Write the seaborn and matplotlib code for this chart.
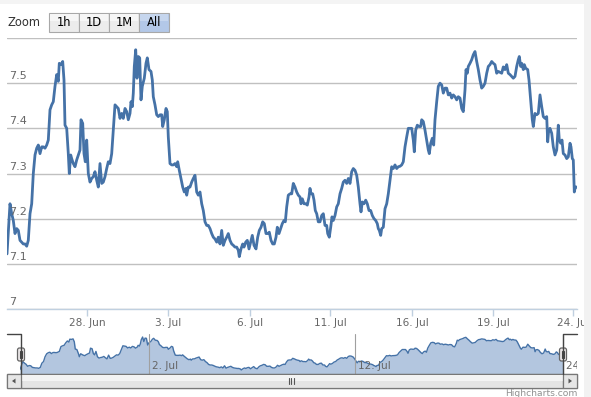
import numpy as np
import pandas as pd
import seaborn as sns
import matplotlib.pyplot as plt
from matplotlib.patches import Rectangle, FancyBboxPatch, Polygon
import matplotlib.transforms as mtransforms

# trading hours since start of range (ordinal axis) and exchange rate
hours = [
    0, 3, 4.7, 6.3, 8, 9.7, 11.3, 13, 14.7, 16.3,
    18, 19.7, 21.3, 23, 24.7, 26.3, 28, 29.7, 31.3, 33,
    34.7, 36.3, 38, 39.7, 41.3, 43, 44.7, 46.3, 48, 49.7,
    51.3, 52.3, 54, 55.7, 57, 58, 59.7, 61.3, 62.3, 63.7,
    64.7, 66.3, 68, 69.7, 71.3, 73, 74, 75.7, 77, 78.3,
    79.7, 81.3, 83, 84.7, 86.3, 88, 89.7, 91.3, 93, 94.7,
    96.3, 98, 99.7, 101.3, 103, 104.7, 106.3,
    108, 111.3, 113, 114.7, 116.3, 118, 119.7, 121.3, 123, 124,
    125.3, 126.3, 127.3, 128.7, 130, 131.3, 132.7, 134, 135.3, 137.3,
    139, 140.3, 142, 144, 145.3, 146.3, 148, 149.7, 151.3, 153,
    154.7, 155.7, 157.3, 159, 160.3, 161.3, 163, 164.7, 166.3, 168,
    169.7, 170.7, 172.3, 174, 175.7, 177.3, 179, 179.7, 181.3, 183,
    184.7, 186.3, 188, 189.7, 191.3, 193, 194.7, 196.3, 198, 199.7,
    201.3, 203, 204.7, 206.3, 208, 209.7, 211.3, 213, 214.7, 216.3,
    218, 219.7, 221.3,
    223, 224.7, 226.3, 228, 229.7, 231.3, 232.3, 234, 235.7, 237,
    238.7, 240.3, 242, 243.7, 245.3, 247, 249, 250.7, 252.3, 254,
    255.7, 257.3, 259, 260.7, 262.3, 264, 265.7, 267.3, 269, 270.3,
    272, 273.7, 275.3, 277, 278.3, 279.7, 281.3, 283, 284.7, 286.3,
    288, 289.7, 291.3, 293, 294, 295.3, 297, 298.7, 300.3, 302,
    303, 304, 305.7, 307, 308.3, 309.7, 311.3, 313, 314.7, 316.3,
    318, 319.7, 320.7, 322.3, 323.7, 325, 326.3, 328, 329.7, 331.3,
    333, 334.7, 336.3,
    338, 339.7, 341.3, 343, 344.7, 346.3, 348, 349.7, 351.3, 353,
    354, 355.3, 357, 358.7, 360.3, 362, 363.7, 365.3, 367, 368.7,
    370.3, 371.3, 372.3, 373.7, 374.7, 376.3, 378, 379.7, 381.3, 383,
    384.7, 386.3, 388, 389.7, 391.3, 393, 394.7, 396.3, 398, 399.7,
    401.3, 403, 404.7, 406.3, 407.3, 408.7, 410.3, 412, 413.7, 414.7,
    416.3, 418, 419.7, 421.3, 422.3, 423.7, 425.3, 426.7, 428, 429.7,
    431.3, 433, 434.7, 436.3, 438, 439.7, 441.3, 443, 444.7, 446.3,
    448, 449.7, 451.3,
    453, 454.7, 456.3, 458, 459, 460.3, 461.3, 463, 464.7, 466.3,
    468, 469.7, 471.3, 473, 474.7, 476.3, 478, 479.7, 481.3, 483,
    484.7, 486.3, 488, 489.7, 491.3, 493, 494.7, 496.3, 498, 499.7,
    501.3, 503, 504.7, 506.3, 508, 509.7, 511.3, 512.3, 513.7, 514.7,
    516.3, 517.3, 518.7, 520.7, 522, 523.7, 525.3, 526.3, 528, 529.7,
    531.3, 533, 534.7, 536.3, 538, 539.7, 540.7, 541.7, 543, 544.7,
    546.3, 548, 549.7, 551.3, 552.3, 553.7, 555, 556.3, 558, 559.7,
    561.3, 563, 564, 565.3, 566.3, 567.3, 568.3, 569.7,
]
rate = [
    7.122, 7.233, 7.211, 7.196, 7.167, 7.178, 7.174, 7.152, 7.148, 7.144,
    7.144, 7.139, 7.152, 7.211, 7.233, 7.300, 7.341, 7.356, 7.363, 7.344,
    7.359, 7.359, 7.356, 7.363, 7.374, 7.441, 7.452, 7.459, 7.493, 7.519,
    7.504, 7.544, 7.541, 7.548, 7.507, 7.407, 7.400, 7.344, 7.300, 7.341,
    7.333, 7.322, 7.315, 7.330, 7.341, 7.352, 7.419, 7.411, 7.344, 7.326,
    7.374, 7.300, 7.281, 7.289, 7.293, 7.304, 7.285, 7.270, 7.322, 7.278,
    7.281, 7.293, 7.311, 7.326, 7.322, 7.344, 7.396,
    7.452, 7.444, 7.422, 7.433, 7.422, 7.444, 7.437, 7.419, 7.433, 7.459,
    7.448, 7.478, 7.537, 7.574, 7.511, 7.559, 7.556, 7.463, 7.493, 7.511,
    7.544, 7.556, 7.530, 7.526, 7.507, 7.470, 7.452, 7.430, 7.426, 7.430,
    7.430, 7.404, 7.419, 7.444, 7.437, 7.381, 7.322, 7.319, 7.319, 7.322,
    7.315, 7.326, 7.307, 7.289, 7.270, 7.259, 7.267, 7.252, 7.270, 7.270,
    7.281, 7.289, 7.296, 7.259, 7.252, 7.259, 7.233, 7.218, 7.193, 7.185,
    7.185, 7.178, 7.167, 7.159, 7.155, 7.148, 7.159, 7.144, 7.174, 7.141,
    7.152, 7.159, 7.167,
    7.152, 7.144, 7.141, 7.137, 7.137, 7.130, 7.116, 7.133, 7.144, 7.137,
    7.148, 7.152, 7.133, 7.148, 7.163, 7.141, 7.133, 7.159, 7.174, 7.181,
    7.193, 7.189, 7.167, 7.167, 7.170, 7.152, 7.144, 7.144, 7.159, 7.181,
    7.167, 7.178, 7.189, 7.196, 7.193, 7.226, 7.252, 7.255, 7.255, 7.278,
    7.270, 7.259, 7.252, 7.248, 7.233, 7.244, 7.233, 7.233, 7.230, 7.248,
    7.267, 7.255, 7.255, 7.241, 7.218, 7.211, 7.193, 7.193, 7.207, 7.211,
    7.185, 7.185, 7.167, 7.159, 7.181, 7.204, 7.196, 7.207, 7.226, 7.233,
    7.255, 7.267, 7.281,
    7.285, 7.278, 7.289, 7.278, 7.304, 7.311, 7.307, 7.296, 7.270, 7.233,
    7.215, 7.237, 7.233, 7.241, 7.233, 7.218, 7.218, 7.207, 7.200, 7.196,
    7.189, 7.178, 7.174, 7.163, 7.178, 7.181, 7.222, 7.233, 7.255, 7.285,
    7.315, 7.311, 7.319, 7.311, 7.315, 7.316, 7.319, 7.326, 7.359, 7.381,
    7.400, 7.400, 7.400, 7.374, 7.348, 7.396, 7.407, 7.404, 7.404, 7.419,
    7.415, 7.396, 7.374, 7.352, 7.344, 7.367, 7.378, 7.363, 7.419, 7.459,
    7.493, 7.500, 7.496, 7.478, 7.489, 7.489, 7.474, 7.478, 7.467, 7.474,
    7.470, 7.463, 7.470,
    7.467, 7.444, 7.437, 7.485, 7.530, 7.522, 7.537, 7.544, 7.552, 7.563,
    7.570, 7.548, 7.530, 7.507, 7.489, 7.493, 7.500, 7.522, 7.537, 7.541,
    7.548, 7.544, 7.541, 7.522, 7.526, 7.524, 7.522, 7.536, 7.530, 7.541,
    7.522, 7.519, 7.515, 7.511, 7.515, 7.537, 7.552, 7.559, 7.537, 7.544,
    7.530, 7.541, 7.533, 7.530, 7.507, 7.463, 7.419, 7.404, 7.433, 7.430,
    7.433, 7.474, 7.448, 7.426, 7.422, 7.426, 7.370, 7.396, 7.400, 7.389,
    7.359, 7.341, 7.352, 7.407, 7.374, 7.367, 7.374, 7.344, 7.341, 7.333,
    7.337, 7.367, 7.359, 7.333, 7.330, 7.259, 7.270, 7.270,
]

x_tick_hours = [80, 161, 243, 323, 405, 486, 566]
x_tick_labels = ["28. Jun", "3. Jul", "6. Jul", "11. Jul", "16. Jul", "19. Jul", "24. Jul"]
y_ticks = [7.0, 7.1, 7.2, 7.3, 7.4, 7.5, 7.6]
y_tick_labels = ["7", "7.1", "7.2", "7.3", "7.4", "7.5", ""]
nav_tick_hours = [135, 352, 570]
nav_tick_labels = ["2. Jul", "12. Jul", "24. Jul"]
zoom_buttons = ["1h", "1D", "1M", "All"]

df = pd.DataFrame({"hours": hours, "rate": rate})

sns.set_theme(style="white")
plt.rcParams["font.family"] = ["DejaVu Sans"]

W, H = 591, 397
fig = plt.figure(figsize=(W / 100, H / 100), dpi=100)


def px_axes(x0, y0, x1, y1):
    return fig.add_axes([x0 / W, 1 - y1 / H, (x1 - x0) / W, (y1 - y0) / H])


line_col = "#4572A7"
label_col = "#666666"

# main chart
ax = px_axes(7, 38, 577, 309)
sns.lineplot(data=df, x="hours", y="rate", ax=ax, color=line_col, linewidth=2,
             estimator=None, sort=False)
ax.set_xlim(0, 570)
ax.set_ylim(7.0, 7.6)
ax.set_yticks(y_ticks)
ax.yaxis.grid(True, color="#C0C0C0", linewidth=1)
ax.set_axisbelow(True)
ax.tick_params(axis="y", left=False, labelleft=False)
for s in ["top", "right", "left"]:
    ax.spines[s].set_visible(False)
ax.spines["bottom"].set_color("#C0D0E0")
ax.spines["bottom"].set_linewidth(1)
ax.set_xticks(x_tick_hours, x_tick_labels)
ax.tick_params(axis="x", bottom=True, length=5, width=1, color="#C0D0E0",
               labelsize=7.6, labelcolor=label_col, pad=1.5)
ax.set_xlabel("")
ax.set_ylabel("")
ytr = mtransforms.offset_copy(ax.get_yaxis_transform(), fig=fig, x=2, y=2, units="dots")
for val, lab in zip(y_ticks, y_tick_labels):
    ax.text(0, val, lab, transform=ytr, ha="left", va="bottom", fontsize=8, color=label_col)

# navigator
nav = px_axes(20, 334, 577, 374)
nav.fill_between(df["hours"], df["rate"], 7.0, color="#b3c6df", linewidth=0)
sns.lineplot(data=df, x="hours", y="rate", ax=nav, color=line_col, linewidth=1,
             estimator=None, sort=False)
nav.set_xlim(0, 570 * 557 / 543)
nav.set_ylim(7.06, 7.616)
nav.set_xticks([])
nav.set_yticks([])
nav.set_xlabel("")
nav.set_ylabel("")
for s in nav.spines.values():
    s.set_visible(False)
ntr = mtransforms.offset_copy(nav.get_xaxis_transform(), fig=fig, x=3, y=0, units="dots")
for t, lab in zip(nav_tick_hours, nav_tick_labels):
    nav.axvline(t, color="#a0a0a0", linewidth=0.8)
    nav.text(t, 0.2, lab, transform=ntr, ha="left", va="center", fontsize=7.6,
             color=label_col, clip_on=True)

# overlay for the stock-chart furniture
ov = fig.add_axes([0, 0, 1, 1], zorder=10)
ov.set_xlim(0, W)
ov.set_ylim(H, 0)
ov.axis("off")
ov.patch.set_alpha(0)

ov.add_patch(Rectangle((0, 0), W, 4, color="#f4f4f4", lw=0))
ov.add_patch(Rectangle((584, 0), 7, H, color="#f2f2f2", lw=0))

ov.text(8, 22.5, "Zoom", ha="left", va="center", fontsize=8.3, color="#333333")
bx = 49
for lab in zoom_buttons:
    sel = lab == "All"
    ov.add_patch(Rectangle((bx, 13), 30, 19, facecolor="#b3c8e8" if sel else "#ececec",
                           edgecolor="#a8a8a8", lw=0.8))
    ov.add_patch(Rectangle((bx + 0.8, 13.8), 28.4, 7, facecolor="#c6d6ee" if sel else "#f6f6f6",
                           lw=0))
    ov.text(bx + 15, 22.5, lab, ha="center", va="center", fontsize=8.3, color="#000000")
    bx += 30

# navigator outline
ov.plot([7, 21, 21], [334, 334, 374], color="#444444", lw=1)
ov.plot([563, 563, 577], [374, 334, 334], color="#444444", lw=1)

# handles
for hx in [21, 563]:
    ov.add_patch(FancyBboxPatch((hx - 3.5, 348), 7, 13, boxstyle="round,pad=0,rounding_size=2",
                                facecolor="#ebe7e8", edgecolor="#666666", lw=0.9))
    ov.plot([hx - 1.2, hx - 1.2], [351, 358], color="#444444", lw=0.8)
    ov.plot([hx + 1.2, hx + 1.2], [351, 358], color="#444444", lw=0.8)

# scrollbar
ov.add_patch(Rectangle((7, 374), 570, 14, facecolor="#eeeeee", edgecolor="#777777", lw=0.9))
ov.add_patch(Rectangle((21, 374), 542, 14, facecolor="#e4e4e4", edgecolor="#777777", lw=0.9))
ov.add_patch(Rectangle((21.5, 374.5), 541, 6, facecolor="#f3f3f3", lw=0))
ov.add_patch(Rectangle((7, 374), 14, 14, facecolor="#e6e6e6", edgecolor="#777777", lw=0.9))
ov.add_patch(Rectangle((563, 374), 14, 14, facecolor="#e6e6e6", edgecolor="#777777", lw=0.9))
ov.add_patch(Polygon([[15.5, 378.5], [15.5, 383.5], [12, 381]], color="#555555", lw=0))
ov.add_patch(Polygon([[568.5, 378.5], [568.5, 383.5], [572, 381]], color="#555555", lw=0))
for gx in [288.5, 291, 293.5]:
    ov.plot([gx, gx], [378, 384], color="#555555", lw=0.8)

ov.text(577, 394, "Highcharts.com", ha="right", va="center", fontsize=6.6, color="#909090")

fig.savefig("out.png", dpi=100)
